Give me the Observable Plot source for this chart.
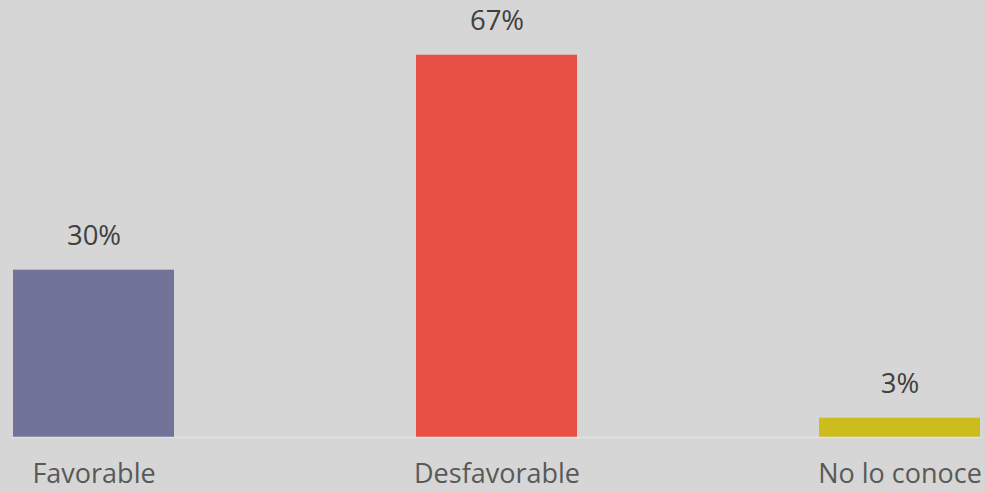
<!DOCTYPE html>
<html>
<head>
<meta charset="utf-8">
<script src="https://cdn.jsdelivr.net/npm/d3@7"></script>
<script src="https://cdn.jsdelivr.net/npm/@observablehq/plot@0.6"></script>
<style>
  html, body { margin: 0; padding: 0; background: #d6d6d6; }
  #chart svg { display: block; }
</style>
</head>
<body>
<div id="chart"></div>
<script>
const categories = ["Favorable", "Desfavorable", "No lo conoce"];
const values = [29.5, 67.4, 3.4];
const colors = ["#717399", "#e84f45", "#cdbc1d"];

const data = categories.map((c, i) => ({category: c, value: values[i], color: colors[i]}));

const chart = Plot.plot({
  width: 985,
  height: 491,
  marginTop: 40,
  marginBottom: 54,
  marginLeft: 12,
  marginRight: 4,
  style: {background: "#d6d6d6", fontFamily: "Open Sans"},
  x: {domain: categories, paddingInner: 0.6, paddingOuter: 0},
  y: {domain: [0, 70], axis: null},
  marks: [
    Plot.barY(data, {x: "category", y: "value", fill: "color"}),
    Plot.ruleY([0], {stroke: "#e2e2e2", strokeWidth: 1.5}),
    Plot.text(data, {x: "category", y: "value", text: d => Math.round(d.value) + "%", dy: -34, fontSize: 27.5, fill: "#404040"}),
    Plot.axisX({tickSize: 0, tickPadding: 26, fontSize: 27, fill: "#595959", label: null})
  ]
});
document.getElementById("chart").append(chart);
</script>
</body>
</html>
